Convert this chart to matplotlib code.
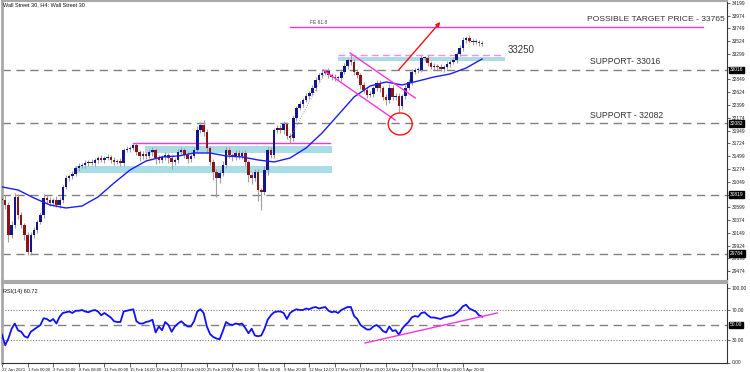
import matplotlib
matplotlib.use('Agg')
import matplotlib.pyplot as plt
from matplotlib.patches import Rectangle, Ellipse
import matplotlib.transforms as mtransforms

plt.rcParams['font.family'] = ['Liberation Sans', 'DejaVu Sans']

# ---------------- data (8h candles) ----------------
closes = [30728, 30640, 30112, 30288, 30781, 30464, 30288, 30112, 29813, 30112,
          30200, 30341, 30464, 30763, 30728, 30675, 30728, 30640, 30728, 30957,
          31115, 31150, 31186, 31291, 31326, 31344, 31379, 31397, 31379, 31432,
          31467, 31432, 31467, 31485, 31432, 31397, 31414, 31379, 31608, 31626,
          31643, 31696, 31573, 31502, 31538, 31502, 31573, 31608, 31467, 31432,
          31485, 31520, 31467, 31397, 31432, 31573, 31608, 31520, 31450, 31502,
          31608, 31960, 32048, 31925, 31643, 31397, 31221, 31115, 31203, 31344,
          31608, 31520, 31485, 31555, 31502, 31555, 31397, 31168, 31115, 31221,
          30904, 30869, 31256, 31608, 31520, 31960, 31995, 31960, 32066, 31854,
          31819, 32171, 32347, 32418, 32488, 32558, 32611, 32699, 32840, 32928,
          32963, 32998, 32928, 32893, 32875, 32875, 32981, 33086, 33192, 33157,
          32981, 32928, 32752, 32664, 32576, 32594, 32699, 32787, 32699, 32541,
          32488, 32699, 32541, 32558, 32382, 32558, 32699, 32805, 32981, 33016,
          33016, 33227, 33227, 33139, 33069, 33086, 33069, 33034, 33069, 33122,
          33157, 33192, 33298, 33403, 33544, 33579, 33526, 33509, 33509, 33491,
          33474]
wick_hi = [60, 80, 50, 70, 70, 60, 50, 40, 60, 50,
           50, 40, 60, 70, 50, 60, 40, 70, 50, 40,
           50, 40, 60, 30, 50, 40, 60, 40, 50, 40,
           40, 50, 40, 60, 40, 50, 40, 50, 40, 50,
           40, 35, 60, 40, 50, 40, 60, 50, 40, 50,
           40, 60, 40, 50, 40, 50, 60, 40, 50, 40,
           50, 70, 60, 80, 50, 40, 50, 60, 50, 70,
           60, 50, 40, 60, 50, 40, 50, 40, 60, 50,
           60, 40, 70, 50, 60, 40, 50, 60, 50, 40,
           50, 60, 40, 50, 40, 50, 40, 50, 60, 40,
           50, 40, 60, 40, 50, 40, 50, 60, 40, 80,
           60, 50, 40, 50, 60, 50, 40, 60, 50, 40,
           60, 70, 50, 60, 50, 40, 50, 60, 50, 40,
           60, 50, 40, 50, 40, 50, 40, 50, 40, 50,
           40, 50, 40, 60, 50, 40, 50, 40, 50, 40,
           40]
wick_lo = [60, 70, 120, 60, 50, 70, 60, 80, 60, 50,
           60, 50, 40, 60, 70, 50, 60, 40, 50, 60,
           40, 60, 50, 40, 60, 40, 50, 60, 40, 50,
           60, 40, 50, 40, 60, 50, 40, 60, 50, 40,
           50, 40, 60, 80, 50, 60, 40, 70, 100, 60,
           50, 60, 80, 120, 60, 50, 40, 60, 70, 50,
           40, 50, 60, 70, 80, 60, 150, 330, 80, 60,
           50, 60, 70, 50, 60, 50, 70, 120, 100, 60,
           200, 317, 60, 80, 50, 60, 50, 60, 70, 60,
           80, 50, 60, 40, 50, 40, 60, 40, 50, 40,
           50, 40, 60, 50, 60, 40, 50, 40, 50, 60,
           50, 60, 70, 50, 60, 40, 50, 60, 70, 50,
           80, 60, 50, 60, 105, 50, 60, 40, 50, 40,
           50, 40, 60, 50, 40, 50, 60, 40, 50, 40,
           50, 40, 50, 40, 50, 60, 40, 50, 40, 50,
           40]
ma_idx = list(range(0, 151, 5))
ma_vals = [30957, 30904, 30763, 30640, 30587, 30622, 30781, 31027, 31256, 31414,
           31485, 31502, 31555, 31555, 31502, 31485, 31432, 31397, 31467, 31643,
           31907, 32224, 32541, 32734, 32805, 32752, 32822, 32893, 32946, 33051,
           33210]
rsi_vals = [37, 23, 32, 45, 52, 43, 41, 35, 33, 41,
            44, 47, 50, 59, 58, 55, 58, 52, 61, 66,
            67, 68, 66, 69, 69, 70, 68, 67, 69, 70,
            68, 63, 66, 63, 60, 55, 54, 54, 68, 69,
            70, 71, 55, 52, 52, 54, 55, 57, 40, 48,
            43, 54, 50, 41, 48, 52, 55, 51, 48, 48,
            55, 68, 71, 66, 48, 38, 34, 32, 31, 42,
            54, 51, 50, 52, 51, 52, 46, 39, 45, 36,
            35, 36, 45, 57, 63, 67, 68, 68, 66, 58,
            66, 69, 71, 70, 70, 72, 71, 73, 74, 72,
            73, 74, 69, 67, 68, 66, 70, 72, 74, 74,
            62, 58, 50, 47, 44, 44, 48, 50, 47, 42,
            40, 48, 42, 43, 37, 45, 50, 54, 60, 62,
            61, 66, 67, 63, 60, 60, 59, 58, 60, 61,
            62, 63, 66, 70, 75, 77, 72, 70, 68, 63,
            61]
xtick_idx = list(range(0, 145, 8))
xtick_labels = ["27 Jan 2021", "1 Feb 00:00", "3 Feb 16:00", "8 Feb 08:00",
                "11 Feb 00:00", "15 Feb 16:00", "18 Feb 12:00", "23 Feb 04:00",
                "25 Feb 20:00", "2 Mar 12:00", "5 Mar 04:00", "9 Mar 20:00",
                "12 Mar 12:00", "17 Mar 04:00", "19 Mar 20:00", "24 Mar 12:00",
                "29 Mar 04:00", "31 Mar 20:00", "5 Apr 20:00"]
price_ticks = list(range(29474, 34200, 225))
h_levels = [33016, 32082, 30819, 29784]
rsi_levels = [70, 30]
rsi_ticks = [0, 30, 70, 100]

# ---------------- figure ----------------
W, H = 750, 372
fig = plt.figure(figsize=(7.5, 3.72), dpi=100)
fig.patch.set_facecolor('white')

def rect(x0, y0, x1, y1):
    return [x0 / W, 1 - y1 / H, (x1 - x0) / W, (y1 - y0) / H]

ax = fig.add_axes(rect(2, 1, 727, 281))
ax2 = fig.add_axes(rect(2, 283, 727, 362.5), sharex=ax)

xmax = 226.5
ax.set_xlim(0, xmax)
ax.set_ylim(29302, 34230)
ax2.set_ylim(0, 106)

# candles
idx = list(range(len(closes)))
opens = [closes[0]] + closes[:-1]
highs = [max(o, c) + w for o, c, w in zip(opens, closes, wick_hi)]
lows = [min(o, c) - w for o, c, w in zip(opens, closes, wick_lo)]
ax.vlines(idx, lows, highs, color='#a0a0a0', lw=0.8, zorder=3)
bottoms = [min(o, c) for o, c in zip(opens, closes)]
heights = [max(abs(c - o), 12) for o, c in zip(opens, closes)]
cols = ['#14148c' if c >= o else '#8c1414' for o, c in zip(opens, closes)]
ax.bar(idx, heights, bottom=bottoms, width=0.78, color=cols, zorder=4, linewidth=0)

# moving average
ax.plot(ma_idx, ma_vals, color='#1c1cff', lw=1.0, zorder=5)

# horizontal dashed levels
for lv in h_levels:
    ax.axhline(lv, color='#808080', lw=1.0, dashes=(6, 4), zorder=2)

# cyan zones on left
ax.add_patch(Rectangle((44.7, 31555), 103.1 - 44.7, 31678 - 31555, fc='#a9dce4', ec='none', zorder=1))
ax.add_patch(Rectangle((22.8, 31203), 103.1 - 22.8, 31326 - 31203, fc='#a9dce4', ec='none', zorder=1))
ax.plot([41, 102.5], [31731, 31731], color='#ff33dd', lw=1.0, zorder=2)

# cyan zone at 33250
ax.add_patch(Rectangle((105, 33174), 157 - 105, 33250 - 33174, fc='#a9dce4', ec='none', zorder=1))
ax.plot([105, 157], [33285, 33285], color='#ff88ee', lw=1.0, dashes=(5, 3), zorder=2)

# FE line
ax.plot([90, 219], [33765, 33765], color='#ff33dd', lw=1.0, zorder=2)
ax.text(96.2, 33843, 'FE 61.8', fontsize=3.5, color='#444444', va='center', ha='left')

# channel
ax.plot([108.75, 129.1], [33315, 32523], color='#ff33dd', lw=1.0, zorder=6)
ax.plot([100.3, 122.8], [33016, 32136], color='#ff33dd', lw=1.0, zorder=6)
# dotted trend
ax.plot([90, 101], [31819, 32981], color='#999999', lw=0.7, ls=(0, (1, 1.5)), zorder=6)
# red arrow
ax.annotate('', xy=(137.5, 33896), xytext=(123.4, 32981),
            arrowprops=dict(arrowstyle='-|>', color='#ff1010', lw=1.0, mutation_scale=6), zorder=7)
# ellipse
ax.add_patch(Ellipse((124.4, 32066), 7.5, 387, fc='none', ec='#ff1010', lw=1.0, zorder=7))

# annotation texts
ax.text(182.8, 33896, 'POSSIBLE TARGET PRICE - 33765', fontsize=6.1, color='#333333', va='center', ha='left')
ax.text(158.1, 33368, '33250', fontsize=7, color='#333333', va='center', ha='left')
ax.text(183.75, 33157, 'SUPPORT- 33016', fontsize=6.2, color='#333333', va='center', ha='left')
ax.text(183.75, 32206, 'SUPPORT - 32082', fontsize=6.2, color='#333333', va='center', ha='left')

ax.text(0.002, 1 - 3.5 / 280, 'Wall Street 30, H4: Wall Street 30', transform=ax.transAxes,
        fontsize=4.0, color='#111111', va='center', ha='left')

# main axis formatting (tick labels hidden where a level box sits on top)
ax.yaxis.tick_right()
ax.set_yticks(price_ticks)
ax.set_yticklabels(['' if min(abs(v - lv) for lv in h_levels) < 70 else str(v) for v in price_ticks])
ax.tick_params(axis='y', labelsize=3.5, length=2, width=0.5, pad=1.5, colors='#222222')
ax.tick_params(axis='x', bottom=False, labelbottom=False)
for s in ['left', 'top', 'bottom']:
    ax.spines[s].set_color('#a8a8a8')
ax.spines['left'].set_linewidth(2)
ax.spines['top'].set_linewidth(1.5)
ax.spines['bottom'].set_linewidth(1.5)
ax.spines['right'].set_color('#333333')
ax.spines['right'].set_linewidth(0.8)

btrans = mtransforms.blended_transform_factory(ax.transAxes, ax.transData)
for lv in h_levels:
    ax.text(1.004, lv, str(lv), transform=btrans, fontsize=3.5, color='white', va='center', ha='left',
            bbox=dict(boxstyle='square,pad=0.2', fc='black', ec='black'), zorder=10)

# RSI panel
ax2.plot(idx, rsi_vals, color='#1010ff', lw=1.3, zorder=4)
for lv in rsi_levels:
    ax2.axhline(lv, color='#808080', lw=0.8, ls=(0, (1, 1.5)), zorder=2)
ax2.axhline(50, color='#808080', lw=1.0, dashes=(6, 4), zorder=2)
ax2.plot([113.4, 154.7], [26, 66], color='#ff33dd', lw=1.0, zorder=5)
ax2.yaxis.tick_right()
ax2.set_yticks(rsi_ticks)
ax2.set_yticklabels(['%.2f' % v for v in rsi_ticks])
ax2.tick_params(axis='y', labelsize=3.5, length=2, width=0.5, pad=1.5, colors='#222222')
btrans2 = mtransforms.blended_transform_factory(ax2.transAxes, ax2.transData)
ax2.text(1.004, 50, '50.00', transform=btrans2, fontsize=3.5, color='white', va='center', ha='left',
         bbox=dict(boxstyle='square,pad=0.2', fc='black', ec='black'), zorder=10)
ax2.text(0.002, 1 - 8 / 79.5, 'RSI(14) 60.72', transform=ax2.transAxes,
         fontsize=4.0, color='#111111', va='center', ha='left')
ax2.set_xticks(xtick_idx)
ax2.set_xticklabels(xtick_labels, ha='left')
ax2.tick_params(axis='x', labelsize=3.1, length=3, width=0.5, pad=1, colors='#222222')
for s in ['left', 'top']:
    ax2.spines[s].set_color('#a8a8a8')
ax2.spines['left'].set_linewidth(2)
ax2.spines['top'].set_linewidth(1.5)
ax2.spines['right'].set_color('#333333')
ax2.spines['right'].set_linewidth(0.8)
ax2.spines['bottom'].set_color('#333333')
ax2.spines['bottom'].set_linewidth(0.8)

fig.savefig('out.png', dpi=100, facecolor='white')
